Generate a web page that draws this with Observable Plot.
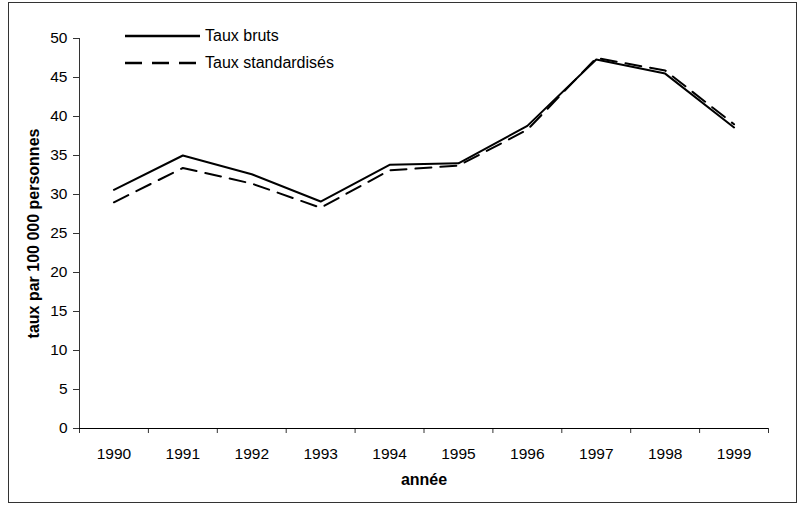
<!DOCTYPE html>
<html>
<head>
<meta charset="utf-8">
<script src="https://cdn.jsdelivr.net/npm/d3@7"></script>
<script src="https://cdn.jsdelivr.net/npm/@observablehq/plot@0.6"></script>
<style>
  html, body { margin: 0; padding: 0; background: #fff; }
  #wrap { position: relative; width: 799px; height: 505px; font-family: "Liberation Sans", Arial, sans-serif; }
  #frame { position: absolute; left: 8px; top: 2px; width: 789px; height: 501px; border: 1.5px solid #333; box-sizing: border-box; pointer-events: none; }
  #legend { position: absolute; left: 125px; top: 22px; font-size: 16px; color: #000; }
  #legend .row { display: flex; align-items: center; height: 27.5px; }
  #legend svg { margin-right: 5px; }
</style>
</head>
<body>
<div id="wrap">
  <div id="chart"></div>
  <div id="legend"></div>
  <div id="frame"></div>
</div>
<script>
const years = [1990, 1991, 1992, 1993, 1994, 1995, 1996, 1997, 1998, 1999];
const tauxBruts = [30.6, 35.0, 32.6, 29.1, 33.8, 34.0, 38.8, 47.3, 45.5, 38.6];
const tauxStandardises = [29.0, 33.4, 31.4, 28.3, 33.1, 33.7, 38.3, 47.5, 45.9, 39.0];
const seriesNames = ["Taux bruts", "Taux standardisés"];
const yTicks = [0, 5, 10, 15, 20, 25, 30, 35, 40, 45, 50];
const xTitle = "année";
const yTitle = "taux par 100 000 personnes";

const dashPattern = "16,9";

const rows = [];
years.forEach((yr, i) => {
  rows.push({year: yr, value: tauxBruts[i], series: seriesNames[0]});
  rows.push({year: yr, value: tauxStandardises[i], series: seriesNames[1]});
});
const bounds = years.map(y => y - 0.5).concat([years[years.length - 1] + 0.5]);
const xDomain = [bounds[0], bounds[bounds.length - 1]];

const font = `"Liberation Sans", Arial, sans-serif`;

const chart = Plot.plot({
  width: 799,
  height: 505,
  marginLeft: 79,
  marginRight: 31,
  marginTop: 38,
  marginBottom: 77,
  style: {fontFamily: font, fontSize: "15px", color: "#000", background: "transparent"},
  x: {type: "linear", domain: xDomain},
  y: {domain: [0, 50]},
  marks: [
    Plot.axisY({ticks: yTicks, tickSize: 6, tickPadding: 6, label: null, stroke: "#333", fontSize: 15.5}),
    Plot.axisX({ticks: years, tickSize: 0, tickPadding: 19, tickFormat: d => String(d), label: null, fontSize: 15.5}),
    Plot.axisX({ticks: bounds, tickSize: 5, tickFormat: () => "", label: null, stroke: "#333"}),
    Plot.ruleX([xDomain[0]], {stroke: "#333", strokeWidth: 1}),
    Plot.ruleY([0], {stroke: "#000", strokeWidth: 1}),
    Plot.line(rows.filter(d => d.series === seriesNames[0]), {x: "year", y: "value", stroke: "#000", strokeWidth: 2}),
    Plot.line(rows.filter(d => d.series === seriesNames[1]), {x: "year", y: "value", stroke: "#000", strokeWidth: 2, strokeDasharray: dashPattern}),
    Plot.text([xTitle], {frameAnchor: "bottom", dy: 51, lineAnchor: "middle", fontWeight: "bold", fontSize: 16}),
    Plot.text([yTitle], {frameAnchor: "left", dx: -46, rotate: -90, lineAnchor: "middle", textAnchor: "middle", fontWeight: "bold", fontSize: 16})
  ]
});
document.getElementById("chart").appendChild(chart);

const legend = document.getElementById("legend");
seriesNames.forEach((name, i) => {
  const row = document.createElement("div");
  row.className = "row";
  const dash = i === 1 ? `stroke-dasharray="17,10"` : "";
  row.innerHTML = `<svg width="75" height="6"><line x1="0" x2="75" y1="3" y2="3" stroke="#000" stroke-width="2.5" ${dash}/></svg><span>${name}</span>`;
  legend.appendChild(row);
});
</script>
</body>
</html>
